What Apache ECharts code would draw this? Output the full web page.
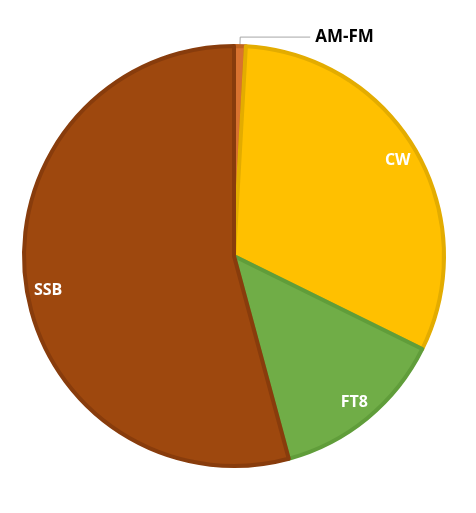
<!DOCTYPE html>
<html>
<head>
    <meta charset="UTF-8">
    <title>Modes</title>
    <style>
        html, body { margin: 0; padding: 0; background: #fff; }
    </style>
</head>
<body>
<div id="main" style="width:476px;height:513px"></div>
<script src="https://cdn.jsdelivr.net/npm/echarts@6/dist/echarts.min.js"></script>
<script type="text/javascript">
// share of contacts per mode, clockwise from 12 o'clock
var modes = ['AM-FM', 'CW', 'FT8', 'SSB'];
var shares = [0.9, 31.4, 13.5, 54.2];

var fillColors = ['#d9722f', '#ffc000', '#70ad47', '#9e480e'];
var edgeColors = ['#c0631f', '#e3ac00', '#609d3a', '#883c0c'];

var pieData = [];
var labelData = [];
for (var i = 0; i < modes.length; i++) {
    var outside = modes[i] == 'AM-FM';
    pieData.push({
        name: modes[i],
        value: shares[i],
        itemStyle: { color: fillColors[i], borderColor: edgeColors[i] },
        label: { show: outside },
        labelLine: { show: outside }
    });
    labelData.push({
        name: modes[i],
        value: shares[i],
        label: { show: !outside }
    });
}

var font = '"Open Sans", "Noto Sans", sans-serif';

var option = {
    backgroundColor: '#fff',
    animation: false,
    series: [
        {
            name: 'modes',
            type: 'pie',
            center: [234, 256],
            radius: 210,
            startAngle: 90,
            clockwise: true,
            avoidLabelOverlap: false,
            itemStyle: { borderWidth: 4 },
            label: {
                position: 'outside',
                color: '#000',
                fontFamily: font,
                fontWeight: 'bold',
                fontSize: 17,
                formatter: '{b}'
            },
            labelLine: {
                length: 9,
                length2: 70,
                lineStyle: { color: '#a6a6a6', width: 1 }
            },
            emphasis: { disabled: true },
            data: pieData
        },
        {
            // transparent ring that only carries the inner labels
            name: 'labels',
            type: 'pie',
            center: [234, 256],
            radius: [162, 211],
            startAngle: 90,
            clockwise: true,
            silent: true,
            avoidLabelOverlap: false,
            itemStyle: { color: 'rgba(0,0,0,0)', borderWidth: 0 },
            label: {
                position: 'inside',
                color: '#fff',
                fontFamily: font,
                fontWeight: 'bold',
                fontSize: 16,
                formatter: '{b}'
            },
            labelLine: { show: false },
            labelLayout: function (params) {
                // SSB label sits a bit lower in the original
                if (params.dataIndex === 3) return { dy: 10, dx: 2 };
                return {};
            },
            emphasis: { disabled: true },
            data: labelData
        }
    ]
};

var myChart = echarts.init(document.getElementById('main'));
myChart.setOption(option);
</script>
</body>
</html>
